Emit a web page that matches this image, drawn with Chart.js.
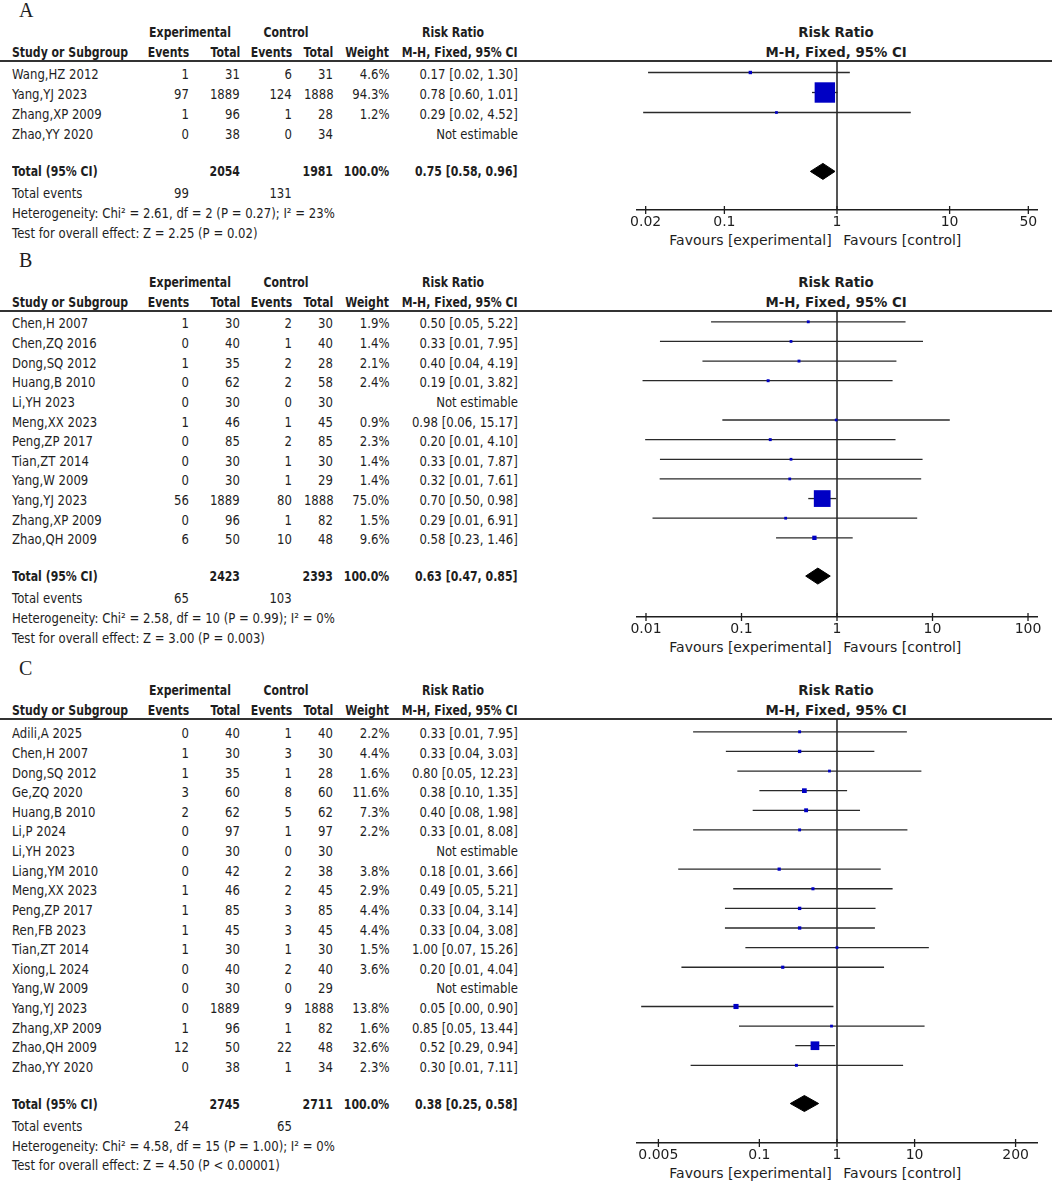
<!DOCTYPE html>
<html>
<head>
<meta charset="utf-8">
<script src="https://cdn.jsdelivr.net/npm/chart.js@4.4.1/dist/chart.umd.min.js"></script>
<style>
body { margin: 0; background: #fff; }
#page { position: relative; width: 1052px; height: 1182px; overflow: hidden; font-family: "DejaVu Sans", sans-serif; color: #1e1e1e; }
.t { position: absolute; white-space: nowrap; font-size: 14px; line-height: 20px; height: 20px; }
.b { font-weight: bold; }
.hl { position: absolute; left: 0; width: 1052px; height: 2px; background: #333; }
.lbl { position: absolute; font-family: "Liberation Serif", serif; font-size: 20px; line-height: 24px; }
.cv { position: absolute; left: 600px; width: 452px; }
</style>
</head>
<body>
<div id="page"></div>
<script>
// ---- panel A ----
var studiesA = ["Wang,HZ 2012", "Yang,YJ 2023", "Zhang,XP 2009", "Zhao,YY 2020"];
var expEventsA = [1, 97, 1, 0];
var expTotalA = [31, 1889, 96, 38];
var ctlEventsA = [6, 124, 1, 0];
var ctlTotalA = [31, 1888, 28, 34];
var weightA = [4.6, 94.3, 1.2, null];
var rrA = [0.17, 0.78, 0.29, null];
var loA = [0.021, 0.60, 0.019, null];
var hiA = [1.30, 1.01, 4.52, null];
var totalA = [0.75, 0.58, 0.96];
var sumsA = [2054, 1981, 99, 131];
var hetA = "Heterogeneity: Chi² = 2.61, df = 2 (P = 0.27); I² = 23%";
var effectA = "Test for overall effect: Z = 2.25 (P = 0.02)";
var ticksA = [0.02, 0.1, 1, 10, 50];
var rangeA = [0.01675, 59.7];

// ---- panel B ----
var studiesB = ["Chen,H 2007", "Chen,ZQ 2016", "Dong,SQ 2012", "Huang,B 2010", "Li,YH 2023", "Meng,XX 2023",
  "Peng,ZP 2017", "Tian,ZT 2014", "Yang,W 2009", "Yang,YJ 2023", "Zhang,XP 2009", "Zhao,QH 2009"];
var expEventsB = [1, 0, 1, 0, 0, 1, 0, 0, 0, 56, 0, 6];
var expTotalB = [30, 40, 35, 62, 30, 46, 85, 30, 30, 1889, 96, 50];
var ctlEventsB = [2, 1, 2, 2, 0, 1, 2, 1, 1, 80, 1, 10];
var ctlTotalB = [30, 40, 28, 58, 30, 45, 85, 30, 29, 1888, 82, 48];
var weightB = [1.9, 1.4, 2.1, 2.4, null, 0.9, 2.3, 1.4, 1.4, 75.0, 1.5, 9.6];
var rrB = [0.50, 0.33, 0.40, 0.19, null, 0.98, 0.20, 0.33, 0.32, 0.70, 0.29, 0.58];
var loB = [0.048, 0.014, 0.039, 0.0092, null, 0.063, 0.0098, 0.014, 0.0139, 0.50, 0.0117, 0.23];
var hiB = [5.22, 7.95, 4.19, 3.82, null, 15.17, 4.10, 7.87, 7.61, 0.98, 6.91, 1.46];
var totalB = [0.63, 0.47, 0.85];
var sumsB = [2423, 2393, 65, 103];
var hetB = "Heterogeneity: Chi² = 2.58, df = 10 (P = 0.99); I² = 0%";
var effectB = "Test for overall effect: Z = 3.00 (P = 0.003)";
var ticksB = [0.01, 0.1, 1, 10, 100];
var rangeB = [0.00805, 124.2];

// ---- panel C ----
var studiesC = ["Adili,A 2025", "Chen,H 2007", "Dong,SQ 2012", "Ge,ZQ 2020", "Huang,B 2010", "Li,P 2024",
  "Li,YH 2023", "Liang,YM 2010", "Meng,XX 2023", "Peng,ZP 2017", "Ren,FB 2023", "Tian,ZT 2014",
  "Xiong,L 2024", "Yang,W 2009", "Yang,YJ 2023", "Zhang,XP 2009", "Zhao,QH 2009", "Zhao,YY 2020"];
var expEventsC = [0, 1, 1, 3, 2, 0, 0, 0, 1, 1, 1, 1, 0, 0, 0, 1, 12, 0];
var expTotalC = [40, 30, 35, 60, 62, 97, 30, 42, 46, 85, 45, 30, 40, 30, 1889, 96, 50, 38];
var ctlEventsC = [1, 3, 1, 8, 5, 1, 0, 2, 2, 3, 3, 1, 2, 0, 9, 1, 22, 1];
var ctlTotalC = [40, 30, 28, 60, 62, 97, 30, 38, 45, 85, 45, 30, 40, 29, 1888, 82, 48, 34];
var weightC = [2.2, 4.4, 1.6, 11.6, 7.3, 2.2, null, 3.8, 2.9, 4.4, 4.4, 1.5, 3.6, null, 13.8, 1.6, 32.6, 2.3];
var rrC = [0.33, 0.33, 0.80, 0.38, 0.40, 0.33, null, 0.18, 0.49, 0.33, 0.33, 1.00, 0.20, null, 0.05, 0.85, 0.52, 0.30];
var loC = [0.014, 0.037, 0.052, 0.10, 0.082, 0.014, null, 0.009, 0.046, 0.036, 0.036, 0.066, 0.0099, null, 0.003, 0.0546, 0.29, 0.013];
var hiC = [7.95, 3.03, 12.23, 1.35, 1.98, 8.08, null, 3.66, 5.21, 3.14, 3.08, 15.26, 4.04, null, 0.90, 13.44, 0.94, 7.11];
var totalC = [0.38, 0.25, 0.58];
var sumsC = [2745, 2711, 24, 65];
var hetC = "Heterogeneity: Chi² = 4.58, df = 15 (P = 1.00); I² = 0%";
var effectC = "Test for overall effect: Z = 4.50 (P < 0.00001)";
var ticksC = [0.005, 0.1, 1, 10, 200];
var rangeC = [0.00265, 377.6];

var INK = "#1e1e1e";
var BLUE = "#0000c4";
var SR = 0.835, SB = 0.78;   // horizontal squeeze of the table text
var page = document.getElementById("page");

function put(str, x, y, align, bold, sx) {
  var s = document.createElement("span");
  s.className = "t" + (bold ? " b" : "");
  s.textContent = str;
  s.style.top = (y - 10) + "px";
  if (align === "right") {
    s.style.right = (1052 - x) + "px";
    s.style.transformOrigin = "100% 50%";
    s.style.transform = "scaleX(" + sx + ")";
  } else if (align === "center") {
    s.style.left = x + "px";
    s.style.transformOrigin = "50% 50%";
    s.style.transform = "translateX(-50%) scaleX(" + sx + ")";
  } else {
    s.style.left = x + "px";
    s.style.transformOrigin = "0 50%";
    s.style.transform = "scaleX(" + sx + ")";
  }
  page.appendChild(s);
}

function ci(r, lo, hi) {
  return r.toFixed(2) + " [" + lo.toFixed(2) + ", " + hi.toFixed(2) + "]";
}

// tick marks that cross the axis line
var crossTicks = {
  id: "crossTicks",
  afterDraw: function (chart) {
    var xs = chart.scales.x, ctx = chart.ctx, y = chart.chartArea.bottom;
    ctx.save();
    ctx.strokeStyle = INK;
    ctx.lineWidth = 1.3;
    xs.ticks.forEach(function (t) {
      var px = xs.getPixelForValue(t.value);
      ctx.beginPath();
      ctx.moveTo(px, y - 4);
      ctx.lineTo(px, y + 4);
      ctx.stroke();
    });
    ctx.restore();
  }
};

var col = { name: 12, ee: 189.3, et: 240, ce: 291.7, ct: 333.3, w: 389.3, rr: 517.7, plot: 836 };

function drawPanel(L, d) {
  var n = d.studies.length;
  var lbl = document.createElement("div");
  lbl.className = "lbl";
  lbl.textContent = L.letter;
  lbl.style.left = "19px";
  lbl.style.top = (L.header - 51 - 12) + "px";
  page.appendChild(lbl);

  var y1 = L.header - 29, y2 = L.header - 9.5;
  put("Experimental", 189.7, y1, "center", true, SB);
  put("Control", 286, y1, "center", true, SB);
  put("Risk Ratio", 453.3, y1, "center", true, SB);
  put("Risk Ratio", col.plot, y1, "center", true, 0.95);
  put("Study or Subgroup", col.name, y2, "left", true, SB);
  put("Events", col.ee, y2, "right", true, SB);
  put("Total", col.et, y2, "right", true, SB);
  put("Events", col.ce, y2, "right", true, SB);
  put("Total", col.ct, y2, "right", true, SB);
  put("Weight", col.w, y2, "right", true, SB);
  put("M-H, Fixed, 95% CI", col.rr, y2, "right", true, SB);
  put("M-H, Fixed, 95% CI", col.plot, y2, "center", true, 0.95);

  var hl = document.createElement("div");
  hl.className = "hl";
  hl.style.top = (L.header - 1) + "px";
  page.appendChild(hl);

  for (var i = 0; i < n; i++) {
    var y = L.row0 + i * L.step;
    put(d.studies[i], col.name, y, "left", false, SR);
    put(String(d.ee[i]), col.ee, y, "right", false, SR);
    put(String(d.et[i]), col.et, y, "right", false, SR);
    put(String(d.ce[i]), col.ce, y, "right", false, SR);
    put(String(d.ct[i]), col.ct, y, "right", false, SR);
    if (d.rr[i] === null) {
      put("Not estimable", col.rr, y, "right", false, SR);
    } else {
      put(d.w[i].toFixed(1) + "%", col.w, y, "right", false, SR);
      put(ci(d.rr[i], d.lo[i], d.hi[i]), col.rr, y, "right", false, SR);
    }
  }
  var totIdx = n + 0.87;
  var ty = L.row0 + totIdx * L.step;
  put("Total (95% CI)", col.name, ty, "left", true, SB);
  put(String(d.sums[0]), col.et, ty, "right", true, SB);
  put(String(d.sums[1]), col.ct, ty, "right", true, SB);
  put("100.0%", col.w, ty, "right", true, SB);
  put(ci(d.total[0], d.total[1], d.total[2]), col.rr, ty, "right", true, SB);
  put("Total events", col.name, ty + 22, "left", false, SR);
  put(String(d.sums[2]), col.ee, ty + 22, "right", false, SR);
  put(String(d.sums[3]), col.ce, ty + 22, "right", false, SR);
  put(d.het, col.name, ty + 42, "left", false, SR);
  put(d.effect, col.name, ty + 61.5, "left", false, SR);

  put("Favours [experimental]", 831.7, L.axis + 29.5, "right", false, 1);
  put("Favours [control]", 843.3, L.axis + 29.5, "left", false, 1);

  // chart for the plot side
  var top = Math.round(L.header);
  var box = document.createElement("div");
  box.className = "cv";
  box.style.top = top + "px";
  box.style.height = (L.axis - top + 25) + "px";
  var cv = document.createElement("canvas");
  box.appendChild(cv);
  page.appendChild(box);

  var ymin = (top - L.row0) / L.step;
  var ymax = (L.axis - L.row0) / L.step;
  var lift = 1.5 / L.step;

  var ds = [];
  ds.push({ data: [{ x: 1, y: ymin }, { x: 1, y: ymax }], showLine: true, borderColor: INK,
    borderWidth: 1.5, pointRadius: 0, order: 3 });
  var sq = [], rad = [];
  for (var j = 0; j < n; j++) {
    if (d.rr[j] === null) continue;
    ds.push({ data: [{ x: d.lo[j], y: j - lift }, { x: d.hi[j], y: j - lift }], showLine: true,
      borderColor: "#2a2a2a", borderWidth: 1.3, pointRadius: 0, order: 2 });
    sq.push({ x: d.rr[j], y: j - lift });
    rad.push((2.5 + 0.19 * d.w[j]) / Math.SQRT2);
  }
  ds.push({ data: sq, pointStyle: "rect", pointRadius: rad, backgroundColor: BLUE,
    borderWidth: 0, showLine: false, order: 1, clip: false });
  var h = 8 / L.step;
  ds.push({ data: [{ x: d.total[1], y: totIdx }, { x: d.total[0], y: totIdx - h },
    { x: d.total[2], y: totIdx }, { x: d.total[0], y: totIdx + h }, { x: d.total[1], y: totIdx }],
    showLine: true, fill: "shape", backgroundColor: "#000", borderColor: "#000", borderWidth: 1,
    pointRadius: 0, tension: 0, order: 1 });

  new Chart(cv, {
    type: "scatter",
    data: { datasets: ds },
    options: {
      animation: false,
      responsive: true,
      maintainAspectRatio: false,
      layout: { autoPadding: false, padding: { left: 37, right: 15, top: 0, bottom: 0 } },
      plugins: { legend: { display: false }, tooltip: { enabled: false } },
      scales: {
        x: {
          type: "logarithmic", min: d.range[0], max: d.range[1], bounds: "data",
          grid: { display: false, drawTicks: false },
          border: { display: true, color: INK, width: 1.5 },
          afterBuildTicks: function (s) { s.ticks = d.ticks.map(function (v) { return { value: v }; }); },
          afterFit: function (s) { s.height = 25; s.paddingLeft = 0; s.paddingRight = 0; },
          ticks: { autoSkip: false, maxRotation: 0, padding: 4, color: INK,
            font: { family: "DejaVu Sans", size: 14 },
            callback: function (v) { return String(v); } }
        },
        y: { type: "linear", display: false, reverse: true, min: ymin, max: ymax }
      }
    },
    plugins: [crossTicks]
  });
}

drawPanel({ letter: "A", header: 61.2, axis: 210, row0: 74, step: 20 },
  { studies: studiesA, ee: expEventsA, et: expTotalA, ce: ctlEventsA, ct: ctlTotalA, w: weightA,
    rr: rrA, lo: loA, hi: hiA, total: totalA, sums: sumsA, het: hetA, effect: effectA, ticks: ticksA, range: rangeA });
drawPanel({ letter: "B", header: 311, axis: 617, row0: 323.3, step: 19.64 },
  { studies: studiesB, ee: expEventsB, et: expTotalB, ce: ctlEventsB, ct: ctlTotalB, w: weightB,
    rr: rrB, lo: loB, hi: hiB, total: totalB, sums: sumsB, het: hetB, effect: effectB, ticks: ticksB, range: rangeB });
drawPanel({ letter: "C", header: 719.2, axis: 1143, row0: 733.3, step: 19.62 },
  { studies: studiesC, ee: expEventsC, et: expTotalC, ce: ctlEventsC, ct: ctlTotalC, w: weightC,
    rr: rrC, lo: loC, hi: hiC, total: totalC, sums: sumsC, het: hetC, effect: effectC, ticks: ticksC, range: rangeC });
</script>
</body>
</html>
